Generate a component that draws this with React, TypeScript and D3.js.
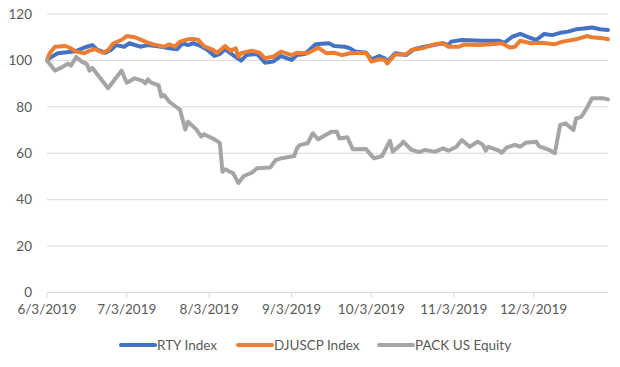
import React from 'react';
import * as d3 from 'd3';

// chart values (date, index level)
const rtyIndex: [string, number][] = [
  ['2019-06-03', 100], ['2019-06-04', 101.0], ['2019-06-07', 103.1], ['2019-06-13', 103.8], ['2019-06-15', 104.5],
  ['2019-06-18', 105.9], ['2019-06-20', 106.6], ['2019-06-22', 104.5], ['2019-06-25', 103.3], ['2019-06-27', 104.5],
  ['2019-06-29', 106.6], ['2019-07-02', 105.9], ['2019-07-04', 107.4], ['2019-07-08', 105.9], ['2019-07-11', 106.6],
  ['2019-07-16', 105.9], ['2019-07-19', 105.2], ['2019-07-22', 104.8], ['2019-07-24', 107.4], ['2019-07-26', 106.6],
  ['2019-07-28', 107.4], ['2019-07-30', 106.6], ['2019-08-02', 104.8], ['2019-08-05', 101.9], ['2019-08-07', 102.8],
  ['2019-08-09', 104.8], ['2019-08-12', 102.3], ['2019-08-15', 99.9], ['2019-08-17', 102.3], ['2019-08-21', 102.8],
  ['2019-08-24', 99.0], ['2019-08-27', 99.5], ['2019-08-30', 101.9], ['2019-09-03', 100.2], ['2019-09-05', 102.3],
  ['2019-09-08', 102.8], ['2019-09-09', 103.8], ['2019-09-12', 107.0], ['2019-09-17', 107.4], ['2019-09-19', 106.2],
  ['2019-09-23', 105.9], ['2019-09-25', 105.2], ['2019-09-27', 103.8], ['2019-10-01', 103.3], ['2019-10-03', 100.5],
  ['2019-10-06', 101.9], ['2019-10-08', 100.9], ['2019-10-09', 99.5], ['2019-10-12', 103.1], ['2019-10-16', 102.3],
  ['2019-10-19', 104.8], ['2019-10-23', 105.9], ['2019-10-30', 107.4], ['2019-11-01', 106.6], ['2019-11-02', 108.1],
  ['2019-11-06', 108.8], ['2019-11-14', 108.5], ['2019-11-20', 108.5], ['2019-11-22', 107.6], ['2019-11-25', 110.2],
  ['2019-11-28', 111.4], ['2019-12-01', 110.0], ['2019-12-04', 108.8], ['2019-12-07', 111.4], ['2019-12-10', 110.9],
  ['2019-12-13', 111.9], ['2019-12-16', 112.4], ['2019-12-19', 113.4], ['2019-12-22', 113.8], ['2019-12-25', 114.2],
  ['2019-12-28', 113.4], ['2019-12-31', 113.1],
];

const djuscpIndex: [string, number][] = [
  ['2019-06-03', 100], ['2019-06-04', 103.1], ['2019-06-06', 105.9], ['2019-06-10', 106.2], ['2019-06-12', 105.2],
  ['2019-06-14', 103.8], ['2019-06-17', 103.1], ['2019-06-19', 104.2], ['2019-06-21', 104.8], ['2019-06-24', 103.3],
  ['2019-06-26', 104.5], ['2019-06-28', 107.4], ['2019-07-01', 108.8], ['2019-07-03', 110.5], ['2019-07-06', 110.0],
  ['2019-07-08', 109.1], ['2019-07-11', 107.6], ['2019-07-13', 106.9], ['2019-07-17', 105.9], ['2019-07-19', 106.9],
  ['2019-07-21', 105.9], ['2019-07-23', 108.1], ['2019-07-26', 109.1], ['2019-07-28', 109.2], ['2019-07-30', 108.8],
  ['2019-08-01', 106.2], ['2019-08-04', 104.8], ['2019-08-06', 103.3], ['2019-08-09', 106.2], ['2019-08-11', 104.2],
  ['2019-08-13', 105.2], ['2019-08-14', 101.6], ['2019-08-15', 103.1], ['2019-08-19', 104.2], ['2019-08-22', 103.3],
  ['2019-08-24', 100.9], ['2019-08-27', 101.6], ['2019-08-30', 103.8], ['2019-09-03', 102.3], ['2019-09-05', 103.3],
  ['2019-09-09', 103.1], ['2019-09-13', 105.5], ['2019-09-16', 103.1], ['2019-09-19', 103.3], ['2019-09-22', 102.3],
  ['2019-09-25', 103.1], ['2019-10-01', 103.3], ['2019-10-03', 99.5], ['2019-10-06', 100.5], ['2019-10-08', 100.2],
  ['2019-10-09', 98.7], ['2019-10-12', 102.6], ['2019-10-16', 102.5], ['2019-10-18', 104.5], ['2019-10-22', 105.2],
  ['2019-10-27', 107.0], ['2019-10-30', 107.4], ['2019-11-01', 105.9], ['2019-11-05', 105.9], ['2019-11-07', 106.9],
  ['2019-11-12', 106.6], ['2019-11-17', 107.0], ['2019-11-21', 107.4], ['2019-11-24', 105.6], ['2019-11-26', 105.9],
  ['2019-11-28', 108.5], ['2019-12-02', 107.4], ['2019-12-06', 107.6], ['2019-12-11', 107.0], ['2019-12-14', 108.1],
  ['2019-12-19', 109.1], ['2019-12-23', 110.5], ['2019-12-25', 110.0], ['2019-12-29', 109.6], ['2019-12-31', 109.1],
];

const packEquity: [string, number][] = [
  ['2019-06-03', 100], ['2019-06-06', 95.6], ['2019-06-09', 97.3], ['2019-06-10', 98.0], ['2019-06-11', 98.7],
  ['2019-06-12', 97.7], ['2019-06-14', 101.5], ['2019-06-16', 99.5], ['2019-06-18', 98.4], ['2019-06-19', 95.6],
  ['2019-06-20', 96.8], ['2019-06-26', 88.0], ['2019-07-01', 95.6], ['2019-07-03', 90.4], ['2019-07-06', 92.3],
  ['2019-07-09', 91.2], ['2019-07-10', 90.1], ['2019-07-11', 91.8], ['2019-07-12', 90.5], ['2019-07-15', 89.2],
  ['2019-07-16', 84.4], ['2019-07-17', 85.1], ['2019-07-19', 82.2], ['2019-07-22', 79.6], ['2019-07-23', 78.8],
  ['2019-07-25', 70.2], ['2019-07-26', 73.6], ['2019-07-29', 70.5], ['2019-07-31', 67.2], ['2019-08-01', 68.2],
  ['2019-08-05', 66.0], ['2019-08-07', 64.5], ['2019-08-08', 52.0], ['2019-08-09', 53.1], ['2019-08-12', 51.4],
  ['2019-08-14', 47.2], ['2019-08-16', 50.2], ['2019-08-19', 51.6], ['2019-08-21', 53.5], ['2019-08-26', 53.9],
  ['2019-08-28', 57.1], ['2019-08-30', 57.8], ['2019-09-04', 58.8], ['2019-09-05', 62.1], ['2019-09-06', 63.5],
  ['2019-09-09', 64.3], ['2019-09-11', 68.6], ['2019-09-13', 66.0], ['2019-09-17', 68.6], ['2019-09-18', 69.3],
  ['2019-09-20', 69.3], ['2019-09-21', 66.4], ['2019-09-24', 66.9], ['2019-09-26', 61.7], ['2019-10-01', 61.8],
  ['2019-10-04', 57.8], ['2019-10-07', 58.8], ['2019-10-10', 65.4], ['2019-10-11', 60.7], ['2019-10-14', 63.6],
  ['2019-10-15', 65.0], ['2019-10-18', 61.5], ['2019-10-21', 60.5], ['2019-10-23', 61.4], ['2019-10-27', 60.7],
  ['2019-10-30', 62.1], ['2019-11-01', 61.1], ['2019-11-04', 62.8], ['2019-11-06', 65.7], ['2019-11-09', 62.8],
  ['2019-11-12', 65.0], ['2019-11-14', 63.6], ['2019-11-15', 61.1], ['2019-11-16', 62.8], ['2019-11-20', 61.1],
  ['2019-11-21', 60.2], ['2019-11-23', 62.5], ['2019-11-26', 63.6], ['2019-11-28', 62.8], ['2019-11-30', 64.5],
  ['2019-12-04', 65.0], ['2019-12-05', 63.1], ['2019-12-09', 61.4], ['2019-12-11', 60.0], ['2019-12-13', 72.2],
  ['2019-12-15', 72.9], ['2019-12-18', 70.0], ['2019-12-19', 75.0], ['2019-12-21', 75.7], ['2019-12-23', 79.4],
  ['2019-12-25', 83.7], ['2019-12-29', 83.7], ['2019-12-31', 83.2],
];

const seriesNames = ['RTY Index', 'DJUSCP Index', 'PACK US Equity'];
const seriesColors = ['#4472C4', '#ED7D31', '#A5A5A5'];
const yTicks = [0, 20, 40, 60, 80, 100, 120];
const xTickDates = ['2019-06-03', '2019-07-03', '2019-08-03', '2019-09-03', '2019-10-03', '2019-11-03', '2019-12-03'];

const parseDate = d3.timeParse('%Y-%m-%d');
const fmtDate = (d: Date) => `${d.getMonth() + 1}/${d.getDate()}/${d.getFullYear()}`;

const App = () => {
  const width = 620;
  const height = 367;
  const font = 'Lato, "Open Sans", sans-serif';

  // plot area
  const left = 47;
  const right = 608;
  const top = 14;
  const bottom = 292.5;

  const xScale = d3.scaleTime()
    .domain([parseDate('2019-06-03') as Date, parseDate('2019-12-31') as Date])
    .range([left, right]);
  const yScale = d3.scaleLinear().domain([0, 120]).range([bottom, top]);

  const line = d3.line<[string, number]>()
    .x((d) => xScale(parseDate(d[0]) as Date))
    .y((d) => yScale(d[1]));

  const allSeries = [rtyIndex, djuscpIndex, packEquity];

  // legend layout (line sample + label)
  const legendX = [121, 238, 379];
  const legendY = 345;

  return (
    <svg width={width} height={height} style={{ position: 'absolute', left: 0, top: 0, background: '#fff' }}>
      <rect x={0} y={0} width={width} height={height} fill="#fff" />

      {/* gridlines and y labels */}
      {yTicks.map((t) => (
        <g key={`y-${t}`}>
          <line x1={left} x2={right} y1={yScale(t)} y2={yScale(t)} stroke="#D9D9D9" strokeWidth={1} />
          <text x={32} y={yScale(t)} dy="0.35em" textAnchor="end" fontFamily={font} fontSize={13.5} fill="#595959">
            {t}
          </text>
        </g>
      ))}

      {/* x axis ticks and labels */}
      {xTickDates.map((s) => {
        const d = parseDate(s) as Date;
        const x = xScale(d);
        return (
          <g key={`x-${s}`}>
            <line x1={x} x2={x} y1={bottom} y2={bottom + 5} stroke="#D9D9D9" />
            <text x={x} y={bottom + 17} dy="0.35em" textAnchor="middle" fontFamily={font} fontSize={13.5} fill="#595959">
              {fmtDate(d)}
            </text>
          </g>
        );
      })}

      {/* series lines */}
      {allSeries.map((s, i) => (
        <path
          key={`line-${i}`}
          d={line(s) || ''}
          fill="none"
          stroke={seriesColors[i]}
          strokeWidth={4}
          strokeLinejoin="round"
          strokeLinecap="round"
        />
      ))}

      {/* legend */}
      {seriesNames.map((name, i) => (
        <g key={`leg-${i}`}>
          <line x1={legendX[i]} x2={legendX[i] + 34} y1={legendY} y2={legendY} stroke={seriesColors[i]} strokeWidth={4} strokeLinecap="round" />
          <text x={legendX[i] + 36} y={legendY} dy="0.35em" fontFamily={font} fontSize={13.5} fill="#595959">
            {name}
          </text>
        </g>
      ))}
    </svg>
  );
};

export default App;
